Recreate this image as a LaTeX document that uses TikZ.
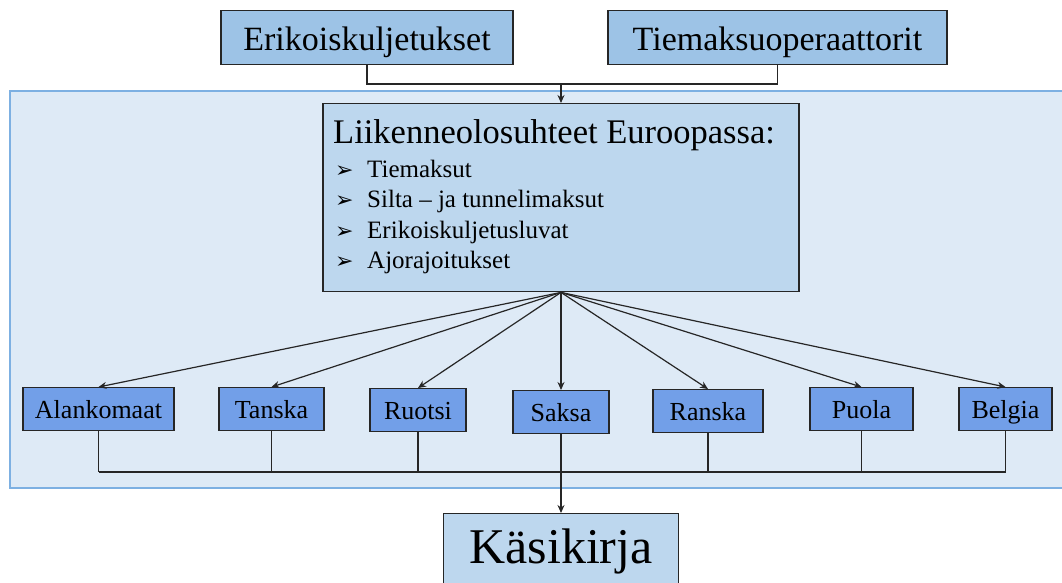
\documentclass[tikz,border=0pt]{standalone}
\usepackage{fontspec}
\setmainfont{DejaVu Serif}
\newfontfamily\symfont{DejaVu Sans}
\newfontfamily\timesfont{Liberation Serif}
\newfontfamily\timesalt{Liberation Serif}[Scale=0.999]
\usetikzlibrary{arrows.meta,calc}

\definecolor{panelblue}{RGB}{222,234,246}
\definecolor{panelline}{RGB}{125,176,226}
\definecolor{topblue}{RGB}{157,195,230}
\definecolor{paleblue}{RGB}{189,215,238}
\definecolor{landblue}{RGB}{114,159,232}
\definecolor{boxline}{RGB}{38,38,38}

\tikzset{
  box/.style={draw=boxline, line width=1.4pt, inner xsep=0pt, inner ysep=0pt, anchor=north},
  topbox/.style={box, fill=topblue, font=\timesfont\fontsize{34}{40}\selectfont, text height=40pt, text depth=14pt},
  landbox/.style={box, fill=landblue, font=\timesfont\fontsize{26}{30}\selectfont, text height=31pt, text depth=12pt},
  line/.style={anchor=base west, inner sep=0pt},
  link/.style={draw=boxline, line width=1.2pt},
  tip/.style={-{Stealth[length=8pt,width=7pt]}},
}

\begin{document}
\begin{tikzpicture}[x=1pt, y=-1pt]
    \useasboundingbox (0,0) rectangle (1062,582);

    % light panel behind the countries
    \filldraw[fill=panelblue, draw=panelline, line width=1.3pt] (10,91) rectangle (1075,488);

    \node[topbox, minimum width=292] (erik) at (367,10) {Erikoiskuljetukset};
    \node[topbox, minimum width=339] (tiem) at (777.5,10) {Tiemaksuoperaattorit};

    \node[box, fill=paleblue, minimum width=476, minimum height=188] (main) at (561,103) {};
    \node[line, font=\timesfont\fontsize{34.5}{40}\selectfont] (title) at (333,143) {Liikenneolosuhteet Euroopassa:};
    \foreach \i/\txt/\y in {1/Tiemaksut/177, 2/{Silta \timesalt– \timesfont ja tunnelimaksut}/207, 3/Erikoiskuljetusluvat/238, 4/Ajorajoitukset/268} {
        \node[line, font=\symfont\fontsize{22}{24}\selectfont] (mark\i) at (335,\y) {➢};
        \node[line, font=\timesfont\fontsize{25}{30}\selectfont] (item\i) at (367,\y) {\txt};
    }

    \coordinate (join) at (561,84);
    \draw[link] (erik.south) |- (join) -| (tiem.south);
    \draw[link, tip] (join) -- (main.north);

    \coordinate (bus) at (0,472);
    \foreach \name/\txt/\x/\w/\y in {ala/Alankomaat/98.5/151/387, tan/Tanska/271.5/105/387,
        ruo/Ruotsi/418/96/388, sak/Saksa/561/96/390, ran/Ranska/708/110/389,
        puo/Puola/861.5/103/387, bel/Belgia/1005.5/93/387} {
        \node[landbox, minimum width=\w] (\name) at (\x,\y) {\txt};
        \draw[link, tip] (main.south) -- (\name.north);
        \draw[link] (\name.south) -- (\name.south |- bus);
    }
    \draw[link] (ala.south |- bus) -- (bel.south |- bus);

    \node[box, fill=paleblue, minimum width=235, font=\timesfont\fontsize{50}{60}\selectfont, text height=50pt, text depth=40pt] (kasi) at (561,513) {K{\timesalt ä}sikirja};
    \draw[link, line width=2pt, tip] (sak.south |- bus) -- (kasi.north);
\end{tikzpicture}
\end{document}
